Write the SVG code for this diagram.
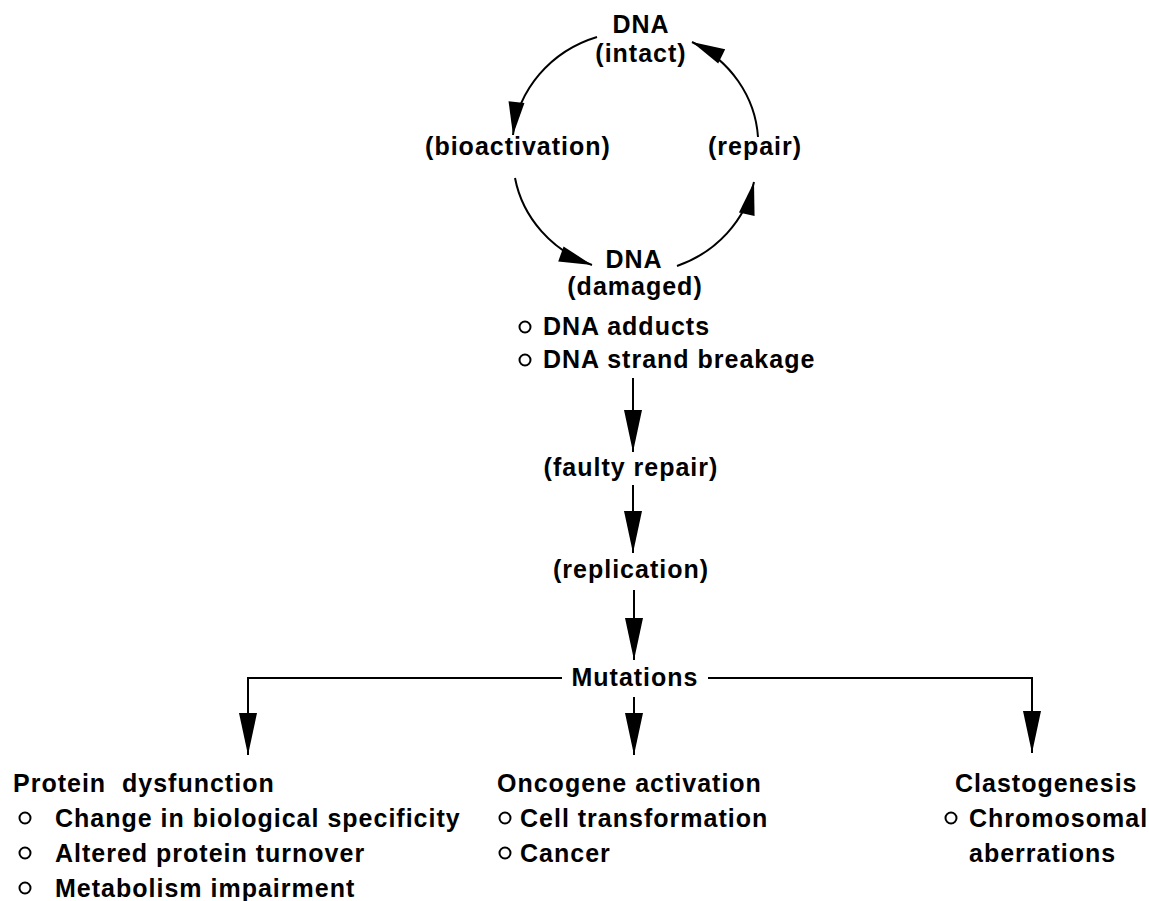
<svg xmlns="http://www.w3.org/2000/svg" width="1149" height="901" viewBox="0 0 1149 901">
<style>
text{font-family:"Liberation Sans",Arial,Helvetica,sans-serif;font-weight:bold;font-size:25px;fill:#000;letter-spacing:1px}
.c{text-anchor:middle}
.ln{fill:none;stroke:#000;stroke-width:2}
.b{fill:#fff;stroke:#000;stroke-width:2}
</style>
<defs>
<marker id="ah" markerUnits="userSpaceOnUse" markerWidth="44" markerHeight="22" viewBox="-42 -10 44 20" refX="0" refY="0" orient="auto">
<path d="M0,0 L-42,-9 L-42,9 Z" fill="#000"/>
</marker>
<marker id="ahc" markerUnits="userSpaceOnUse" markerWidth="36" markerHeight="20" viewBox="-34 -9 36 18" refX="0" refY="0" orient="auto">
<path d="M0,0 L-33,-8 L-33,8 Z" fill="#000"/>
</marker>
</defs>
<rect width="1149" height="901" fill="#fff"/>

<g id="connectors">
<path class="ln" d="M597,37 A122,115 0 0 0 513,135" marker-end="url(#ahc)"/>
<path class="ln" d="M515,178 A122,115 0 0 0 592,265" marker-end="url(#ahc)"/>
<path class="ln" d="M677,266 A122,115 0 0 0 754,182" marker-end="url(#ahc)"/>
<path class="ln" d="M758,137 A122,115 0 0 0 692,42" marker-end="url(#ahc)"/>
<path class="ln" d="M633,378 V452" marker-end="url(#ah)"/>
<path class="ln" d="M633,485 V553" marker-end="url(#ah)"/>
<path class="ln" d="M634,590 V660" marker-end="url(#ah)"/>
<path class="ln" d="M634,697 V755" marker-end="url(#ah)"/>
<path class="ln" d="M562,678 H248 V755" marker-end="url(#ah)"/>
<path class="ln" d="M708,678 H1032 V753" marker-end="url(#ah)"/>
</g>

<g id="dna-intact">
<text class="c" x="641" y="33">DNA</text>
<text class="c" x="641" y="62">(intact)</text>
</g>
<g id="bioactivation"><text class="c" x="518" y="155">(bioactivation)</text></g>
<g id="repair"><text class="c" x="755" y="155">(repair)</text></g>
<g id="dna-damaged">
<text class="c" x="634" y="268">DNA</text>
<text class="c" x="635" y="295">(damaged)</text>
<circle class="b" cx="525" cy="327" r="5.5"/>
<text x="543" y="335">DNA adducts</text>
<circle class="b" cx="525" cy="360" r="5.5"/>
<text x="543" y="368">DNA strand breakage</text>
</g>
<g id="faulty-repair"><text class="c" x="631" y="476">(faulty repair)</text></g>
<g id="replication"><text class="c" x="631" y="578">(replication)</text></g>
<g id="mutations"><text class="c" x="635" y="686">Mutations</text></g>

<g id="protein-dysfunction">
<text x="13" y="792" xml:space="preserve">Protein  dysfunction</text>
<circle class="b" cx="25" cy="818" r="5.5"/>
<text x="55" y="827">Change in biological specificity</text>
<circle class="b" cx="25" cy="853" r="5.5"/>
<text x="55" y="862">Altered protein turnover</text>
<circle class="b" cx="25" cy="888" r="5.5"/>
<text x="55" y="897">Metabolism impairment</text>
</g>

<g id="oncogene-activation">
<text x="497" y="792">Oncogene activation</text>
<circle class="b" cx="505" cy="818" r="5.5"/>
<text x="520" y="827">Cell transformation</text>
<circle class="b" cx="505" cy="853" r="5.5"/>
<text x="520" y="862">Cancer</text>
</g>

<g id="clastogenesis">
<text x="955" y="792">Clastogenesis</text>
<circle class="b" cx="951" cy="818" r="5.5"/>
<text x="969" y="827">Chromosomal</text>
<text x="969" y="862">aberrations</text>
</g>
</svg>
